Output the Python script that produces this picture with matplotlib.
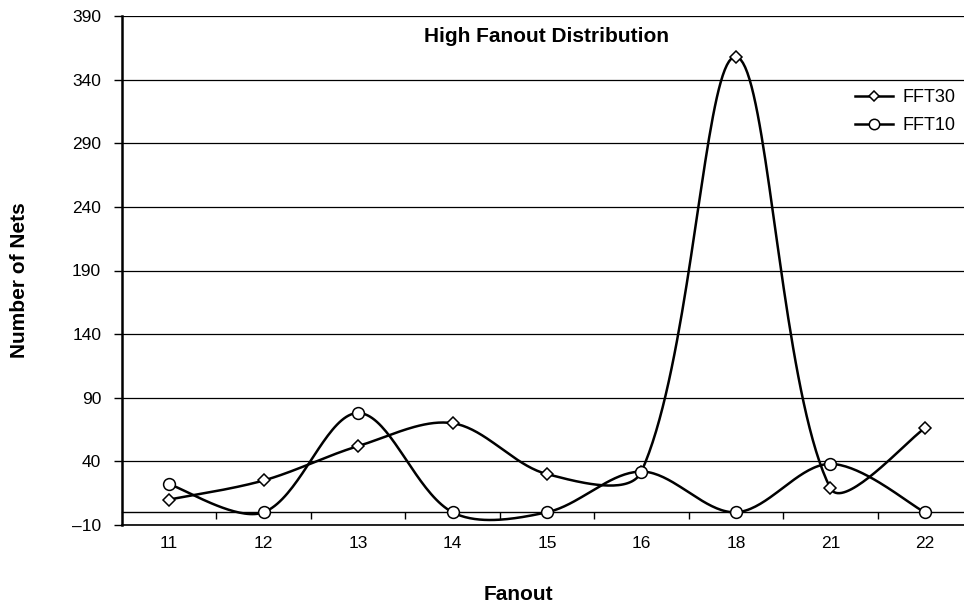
import numpy as np
import matplotlib
matplotlib.use("Agg")
import matplotlib.pyplot as plt
from matplotlib.lines import Line2D

# data
fanout = ["11", "12", "13", "14", "15", "16", "18", "21", "22"]
fft30 = [10, 25, 52, 70, 30, 32, 358, 19, 66]
fft10 = [22, 0, 78, 0, 0, 32, 0, 38, 0]
y_ticks = list(range(-10, 391, 50))

plt.rcParams['font.family'] = ['Liberation Sans', 'DejaVu Sans']

W_PX, H_PX = 964, 605
AX_L, AX_R, AX_T, AX_B = 122, 972, 16, 525


def smooth(xs, ys, y_ratio, n=40):
    """Excel-like smoothed line: cubic bezier through the points,
    tangent lengths shared out by the length of each neighbouring segment."""
    p = np.column_stack([xs, ys]).astype(float)
    ext = np.vstack([p[0], p, p[-1]])
    scale = np.array([1.0, y_ratio])

    def dist(a, b):
        return np.hypot(*((b - a) * scale))

    out = []
    t = np.linspace(0, 1, n)[:, None]
    for i in range(len(p) - 1):
        p0, p1, p2, p3 = ext[i], ext[i + 1], ext[i + 2], ext[i + 3]
        # control leaving p1
        dp, dn = dist(p0, p1), dist(p1, p2)
        k1 = 2 * dn / (dp + dn) if dp > 0 else 1.0
        c1 = p1 + (p2 - p0) / 6 * k1
        # control arriving at p2
        dp, dn = dist(p1, p2), dist(p2, p3)
        k2 = 2 * dp / (dp + dn) if dn > 0 else 1.0
        c2 = p2 - (p3 - p1) / 6 * k2
        seg = (1 - t) ** 3 * p1 + 3 * (1 - t) ** 2 * t * c1 + 3 * (1 - t) * t ** 2 * c2 + t ** 3 * p2
        out.append(seg if i == 0 else seg[1:])
    arr = np.vstack(out)
    return arr[:, 0], arr[:, 1]


fig = plt.figure(figsize=(W_PX / 100, H_PX / 100), dpi=100)
ax = fig.add_axes([AX_L / W_PX, 1 - AX_B / H_PX,
                   (AX_R - AX_L) / W_PX, (AX_B - AX_T) / H_PX])

x = np.arange(len(fanout))
ax.set_xlim(-0.5, len(fanout) - 0.5)
ax.set_ylim(y_ticks[0], y_ticks[-1])

# pixel aspect: px per y unit over px per category
px_x = (AX_R - AX_L) / len(fanout)
px_y = (AX_B - AX_T) / (y_ticks[-1] - y_ticks[0])
ratio = px_y / px_x

handles = []
for vals, marker, ms in [(fft30, 'D', 6.5), (fft10, 'o', 8.5)]:
    sx, sy = smooth(x, vals, ratio)
    ax.plot(sx, sy, color='black', lw=1.8, zorder=3, clip_on=False)
    ax.plot(x, vals, linestyle='none', marker=marker, ms=ms, mfc='white',
            mec='black', mew=1.1, zorder=4, clip_on=False)
    handles.append(Line2D([], [], color='black', lw=1.8, marker=marker, ms=ms - 1,
                          mfc='white', mec='black', mew=1.1))

# horizontal grid
ax.set_yticks(y_ticks, [str(v).replace('-', '\u2013') for v in y_ticks])
ax.yaxis.grid(True, color='black', lw=0.9)
ax.set_axisbelow(True)
ax.tick_params(axis='y', length=6, width=1, pad=9, labelsize=12.5)

ax.set_xticks(x, fanout)
ax.tick_params(axis='x', length=0, pad=8, labelsize=12.5)

for side in ['right', 'top']:
    ax.spines[side].set_visible(False)
ax.spines['left'].set_linewidth(1.8)
ax.spines['bottom'].set_linewidth(1.2)

# category axis crossing at zero, with tick marks between categories
zero_pos = (0 - y_ticks[0]) / (y_ticks[-1] - y_ticks[0])
sec = ax.secondary_xaxis(zero_pos)
sec.set_xticks(x[:-1] + 0.5)
sec.tick_params(direction='out', length=5, width=1, labelbottom=False, labeltop=False)
sec.spines['bottom'].set_linewidth(1)

fig.text(547 / W_PX, 1 - 37 / H_PX, "High Fanout Distribution", ha='center',
         va='center', fontsize=15, fontweight='bold')
fig.text(20 / W_PX, 1 - 280 / H_PX, "Number of Nets", rotation=90, ha='center',
         va='center', fontsize=15, fontweight='bold')
fig.text(518 / W_PX, 1 - 594 / H_PX, "Fanout", ha='center', va='center',
         fontsize=15, fontweight='bold')

fig.legend(handles, ["FFT30", "FFT10"], loc='upper left',
           bbox_to_anchor=(855 / W_PX, 1 - 89 / H_PX), frameon=False, fontsize=13,
           handlelength=2.1, handletextpad=0.55, labelspacing=0.62,
           borderpad=0, borderaxespad=0)

fig.savefig('out.png', dpi=100)
